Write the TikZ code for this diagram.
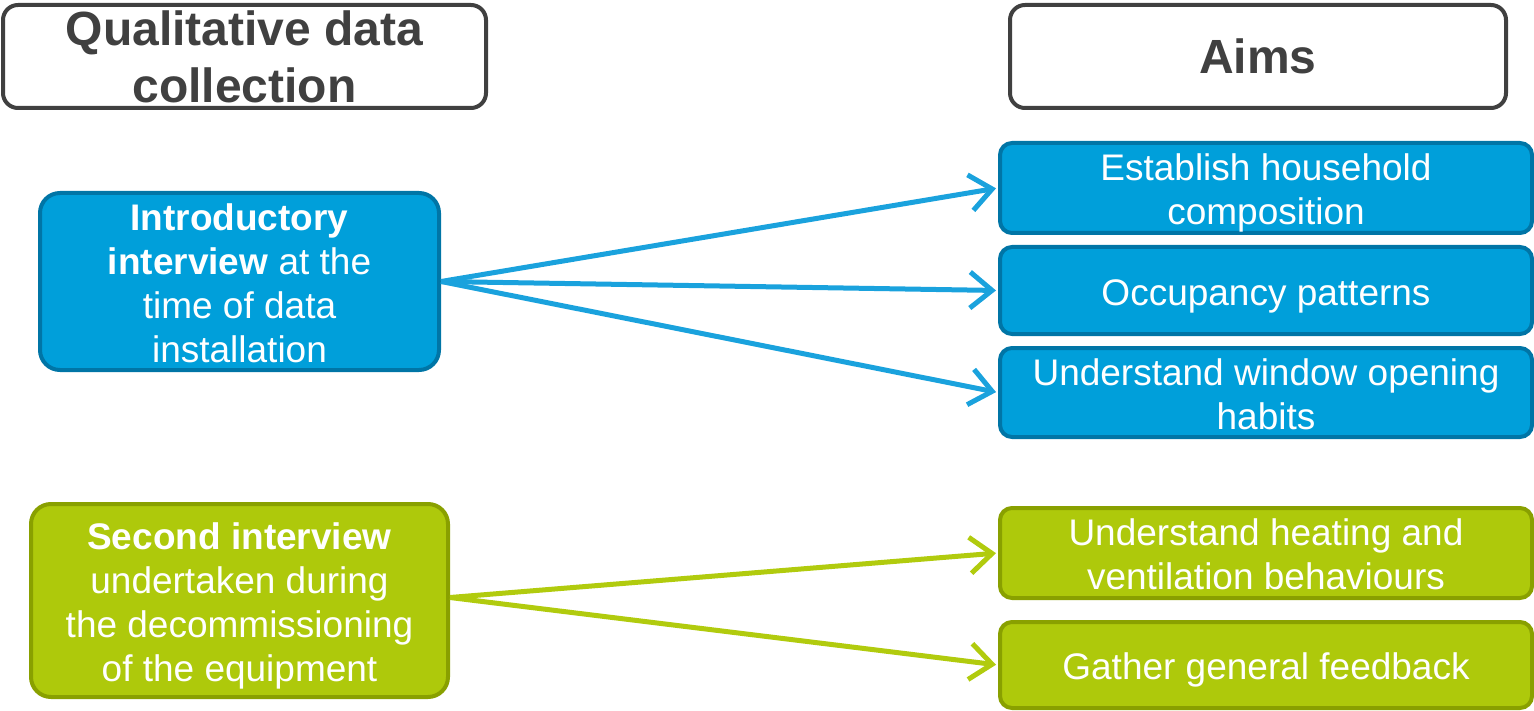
\documentclass[tikz,border=0pt]{standalone}
\usepackage{fontspec}
\setmainfont{Liberation Sans}
\usetikzlibrary{arrows.meta}
\definecolor{hdr}{HTML}{404040}
\definecolor{bfill}{HTML}{009FDA}
\definecolor{bline}{HTML}{0075A6}
\definecolor{barrow}{HTML}{1AA2DD}
\definecolor{gfill}{HTML}{AEC90B}
\definecolor{gline}{HTML}{89A000}
\definecolor{garrow}{HTML}{B1CB0E}
\newcommand{\lowtext}[1]{\raisebox{-6pt}[\height][\depth]{\begin{tabular}{@{}c@{}}#1\end{tabular}}}
\tikzset{
  hdrbox/.style={draw=hdr, line width=4pt, fill=white, rounded corners=15pt, inner sep=0pt, text=hdr, font=\fontsize{48}{57}\selectfont\bfseries, align=center},
  bluebox/.style={draw=bline, line width=4pt, fill=bfill, inner sep=0pt, text=white, font=\fontsize{37}{44}\selectfont},
  greenbox/.style={draw=gline, line width=4pt, fill=gfill, inner sep=0pt, text=white, font=\fontsize{37}{44}\selectfont},
  conn/.style={line width=5pt, -{Straight Barb[length=22pt,width=36pt,line width=5pt]}, shorten >=2pt},
}
\begin{document}
\begin{tikzpicture}[x=1pt,y=-1pt]
\useasboundingbox (0,0) rectangle (1534,711);
% headers
\node[hdrbox, minimum width=483pt, minimum height=103pt] (hq) at (244.5,56.5) {Qualitative data\\collection};
\node[hdrbox, minimum width=496pt, minimum height=103pt] (ha) at (1258,56.5) {Aims};
% left boxes
\node[bluebox, rounded corners=20pt, minimum width=399pt, minimum height=177pt] (intro) at (239.5,281.5)
  {\lowtext{\textbf{Introductory}\\\textbf{interview} at the\\time of data\\installation}};
\node[greenbox, rounded corners=20pt, minimum width=417pt, minimum height=193pt] (second) at (239.5,600.5)
  {\lowtext{\textbf{Second interview}\\undertaken during\\the decommissioning\\of the equipment}};
% right blue boxes
\node[bluebox, rounded corners=12pt, minimum width=532pt, minimum height=90pt] (a1) at (1266,188) {\lowtext{Establish household\\composition}};
\node[bluebox, rounded corners=12pt, minimum width=532pt, minimum height=87pt] (a2) at (1266,290.5) {\lowtext{Occupancy patterns}};
\node[bluebox, rounded corners=12pt, minimum width=532pt, minimum height=89pt] (a3) at (1266,392.5) {\lowtext{Understand window opening\\habits}};
% right green boxes
\node[greenbox, rounded corners=12pt, minimum width=532pt, minimum height=90pt] (g1) at (1266,553) {\lowtext{Understand heating and\\ventilation behaviours}};
\node[greenbox, rounded corners=12pt, minimum width=532pt, minimum height=86pt] (g2) at (1266,665) {\lowtext{Gather general feedback}};
% connectors
\draw[conn, barrow] (intro.east) -- (a1.west);
\draw[conn, barrow] (intro.east) -- (a2.west);
\draw[conn, barrow] (intro.east) -- (a3.west);
\draw[conn, garrow] ([yshift=3pt]second.east) -- (g1.west);
\draw[conn, garrow] ([yshift=3pt]second.east) -- (g2.west);
\end{tikzpicture}
\end{document}
